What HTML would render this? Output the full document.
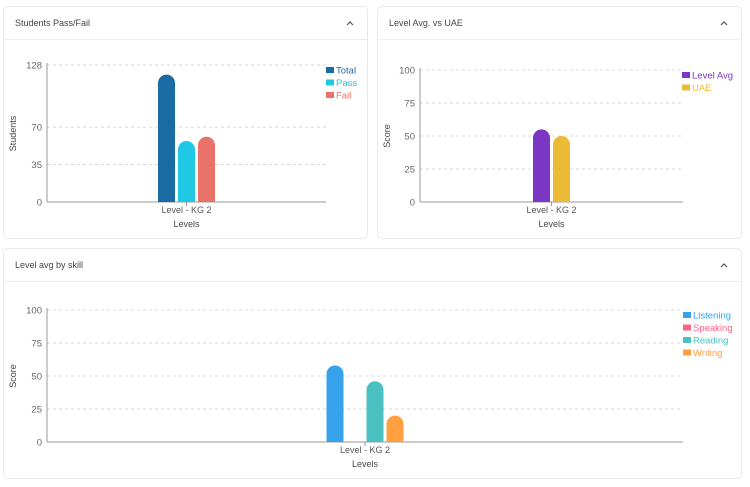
<!DOCTYPE html>
<html><head><meta charset="utf-8">
<style>
body{margin:0;width:750px;height:487px;background:#fff;font-family:"Liberation Sans",sans-serif;position:relative;overflow:hidden}
.card{position:absolute;border:1px solid #e6e9ee;border-radius:5px;background:#fff;box-sizing:border-box}
.hd{position:absolute;left:0;right:0;top:0;height:32px;border-bottom:1px solid #eceef2;font-size:9px;color:#444;line-height:32px;padding-left:11px}
svg{position:absolute;left:0;top:0}
.hd svg.chev{left:auto;right:13px;top:13px;width:8px;height:6px}
text{font-family:"Liberation Sans",sans-serif}
</style></head><body>
<div class="card" style="left:3px;top:6px;width:365px;height:233px">
 <div class="hd">Students Pass/Fail<svg class="chev" viewBox="0 0 8 6"><polyline points="1,5 4,2 7,5" fill="none" stroke="#555" stroke-width="1.2"/></svg></div>
</div>
<div class="card" style="left:377px;top:6px;width:365px;height:233px">
 <div class="hd">Level Avg. vs UAE<svg class="chev" viewBox="0 0 8 6"><polyline points="1,5 4,2 7,5" fill="none" stroke="#555" stroke-width="1.2"/></svg></div>
</div>
<div class="card" style="left:3px;top:248px;width:739px;height:231px">
 <div class="hd">Level avg by skill<svg class="chev" viewBox="0 0 8 6"><polyline points="1,5 4,2 7,5" fill="none" stroke="#555" stroke-width="1.2"/></svg></div>
</div>
<svg id="s" width="750" height="487"></svg>
<script>
const categories1=["Level - KG 2"];
const series1Names=["Total","Pass","Fail"];
const series1Values=[119,57,61];
const ticks1=[0,35,70,128];
const categories2=["Level - KG 2"];
const series2Names=["Level Avg","UAE"];
const series2Values=[55,50];
const ticks2=[0,25,50,75,100];
const categories3=["Level - KG 2"];
const series3Names=["Listening","Speaking","Reading","Writing"];
const series3Values=[58,0,46,20];
const ticks3=[0,25,50,75,100];

const NS="http://www.w3.org/2000/svg";
const svg=document.getElementById('s');
function el(t,a,txt){const e=document.createElementNS(NS,t);for(const k in a)e.setAttribute(k,a[k]);if(txt!==undefined)e.textContent=txt;svg.appendChild(e);return e;}

function chart(cfg){
 const {x0,x1,y0,y1,max,ticks,cats,names,vals,colors,ytitle,ytx,legX}=cfg;
 const ys=v=>y0-(v/max)*(y0-y1);
 ticks.forEach(t=>{
  if(t>0){const g=el('line',{x1:x0,x2:x1,y1:ys(t),y2:ys(t),stroke:'#d8d8d8','stroke-dasharray':'3,3'});
  }
  const tl=el('text',{x:x0-5,y:ys(t)+3.5,'font-size':9.5,fill:'#666','text-anchor':'end'},t);
  
 });
 const ya=el('line',{x1:x0,x2:x0,y1:y1-2,y2:y0,stroke:'#999'});
 
 const xa=el('line',{x1:x0,x2:x1,y1:y0,y2:y0,stroke:'#999'});
 
 const bw=17,step=20;
 const band=(x1-x0)/cats.length;
 cats.forEach((c,ci)=>{
  const cx=x0+band*(ci+0.5);
  const start=cx-(names.length*step-3)/2;
  names.forEach((n,i)=>{
   const v=vals[i];if(v<=0)return;
   const top=ys(v),h=y0-top,r=Math.min(8.5,h/2),x=start+i*step;
   const p=el('path',{d:`M${x},${y0}V${top+r}A${r},${r} 0 0 1 ${x+bw},${top+r}V${y0}Z`,fill:colors[i]});
   
   
  });
  const tk=el('line',{x1:cx,x2:cx,y1:y0,y2:y0+4,stroke:'#999'});
  
  const cl=el('text',{x:cx,y:y0+11,'font-size':9,fill:'#555','text-anchor':'middle'},c);
  
 });
 const xt=el('text',{x:(x0+x1)/2,y:y0+25,'font-size':9,fill:'#444','text-anchor':'middle'},'Levels');
 
 const ym=(y0+y1)/2;
 const yt=el('text',{x:ytx,y:ym,'font-size':9,fill:'#444','text-anchor':'middle',transform:`rotate(-90 ${ytx} ${ym})`},ytitle);
 
 names.forEach((n,i)=>{
  const ly=y1+5+i*12.5;
  const sw=el('rect',{x:legX,y:ly-3,width:8,height:6,fill:colors[i]});
  
  const lt=el('text',{x:legX+10,y:ly+3.5,'font-size':9.5,fill:colors[i]},n);
  
 });
}
chart({x0:47,x1:326,y0:202,y1:65,max:128,ticks:ticks1,cats:categories1,names:series1Names,vals:series1Values,colors:['#1a6aa3','#1fc8e3','#ea7369'],ytitle:'Students',ytx:16,legX:326});
chart({x0:420,x1:683,y0:202,y1:70,max:100,ticks:ticks2,cats:categories2,names:series2Names,vals:series2Values,colors:['#7b37c4','#ebbb38'],ytitle:'Score',ytx:390,legX:682});
chart({x0:47,x1:683,y0:442,y1:310,max:100,ticks:ticks3,cats:categories3,names:series3Names,vals:series3Values,colors:['#36a2eb','#ff6384','#4bc0c0','#ff9f40'],ytitle:'Score',ytx:16,legX:683});
</script>
</body></html>
